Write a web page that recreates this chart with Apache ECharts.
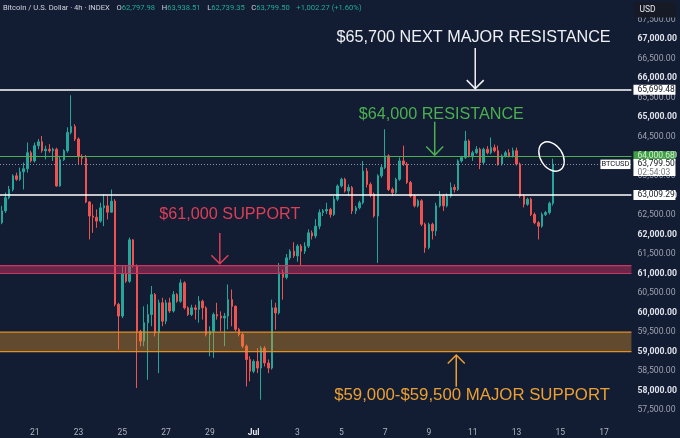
<!DOCTYPE html>
<html>
<head>
<meta charset="utf-8">
<script src="https://cdn.jsdelivr.net/npm/echarts/dist/echarts.min.js"></script>
<style>
html,body{margin:0;padding:0;background:#121c33;}
#chart{width:680px;height:438px;}
</style>
</head>
<body>
<div id="chart"></div>
<script>
// ---------- DATA (4h candles, BTCUSD index) ----------
const opens = [
62300,62600,62940,63150,63500,63410,63600,63680,64090,63880,64270,64370,64140,64180,64140,64180,63240,63910,64140,64610,64760,64440,63990,63950,62830,62470,62440,62340,62680,62730,62570,62850,
60210,59910,61000,60800,61860,61190,59520,59270,59740,59950,60460,59480,60250,59780,60250,60040,60460,60290,60760,60120,59950,60120,60080,60290,60120,59440,59520,59950,59910,59860,59910,60330,60160,59570,59440,59140,58800,58500,58750,58580,59090,58710,58580,60120,
59990,61020,60900,61400,61570,61450,61700,61570,61700,62040,61960,62210,62560,62600,62640,62510,62900,63240,63410,63110,63200,62600,62680,62810,63620,63280,63030,62470,63500,63710,64010,63150,63070,63410,
63880,63800,63330,62980,62730,62860,62260,61660,62260,62090,62730,62980,62730,62980,63200,63150,63880,63970,64390,64010,64090,64180,63840,64180,64090,64220,64140,63800,64010,64090,64010,64140,63800,62980,62770,62900,62510,62300,62210,62510,62560,62797.98
];
const closes = [
62600,62940,63150,63500,63410,63600,63680,64090,63880,64270,64370,64140,64180,64140,64180,63240,63910,64140,64610,64760,64440,63990,63950,62830,62470,62440,62340,62680,62730,62570,62850,60210,
59910,61000,60800,61860,61190,59520,59270,59740,59950,60460,59480,60250,59780,60250,60040,60460,60290,60760,60120,59950,60120,60080,60290,60120,59440,59520,59950,59910,59860,59910,60330,60160,59570,59440,59140,58800,58500,58750,58580,59090,58710,58580,60120,59990,
61020,60900,61400,61570,61450,61700,61570,61700,62040,61960,62210,62560,62600,62640,62510,62900,63240,63410,63110,63200,62600,62680,62810,63620,63280,63030,62470,63500,63710,64010,63150,63070,63410,63880,
63800,63330,62980,62730,62860,62260,61660,62260,62090,62730,62980,62730,62980,63200,63150,63880,63970,64390,64010,64090,64180,63840,64180,64090,64220,64140,63800,64010,64090,64010,64140,63800,62980,62770,62900,62510,62300,62210,62510,62560,62797.23,63799.50
];
const lows = [
62260,62550,62900,63100,63370,63370,63150,63580,63840,63840,64180,64090,63920,64090,63880,63220,63220,63880,64090,64560,64390,63790,63790,62800,61870,62040,62170,62300,62210,62380,62550,60160,
59050,59860,60760,60760,61150,58070,59140,59140,58280,59650,59390,58450,59650,59700,59990,60000,60250,60250,60080,59910,59910,59820,59740,59820,59390,58880,58840,59820,59520,59140,59570,59650,59520,59390,59090,58110,58240,58450,58450,57770,58620,58450,58540,59560,
59950,60330,60850,61350,61400,61300,61190,61500,61650,61870,61900,62130,62470,62520,62430,62470,62850,63200,63070,62980,62520,62520,62640,62770,63200,62950,62430,61270,63450,63670,63110,62980,63030,63370,
63750,63290,62940,62690,62690,62210,61530,61620,61870,61960,62690,62600,62690,62940,63070,63110,63840,63930,63970,63880,64050,63670,63800,64050,64050,64100,63760,63760,63970,63970,63970,63760,62940,62690,62730,62470,62260,61870,62170,62470,62510,62739.35
];
const highs = [
62730,63070,63240,63540,63580,63710,63840,64350,64140,64350,64440,64520,64270,64310,64220,64220,64010,64180,64740,65560,64820,64480,64050,64030,62850,62770,62640,62810,63030,62980,63150,62900,
60250,61190,61190,61920,61880,61230,59560,60160,60210,60680,60500,60330,60380,60330,60380,60550,60500,60850,60800,60160,60200,60200,60420,60330,60160,59650,60000,60250,60030,59990,60720,60590,60180,59610,59480,59180,58880,58800,59090,59140,59140,58800,60330,60250,
61270,61100,61500,61620,61800,61750,61750,61800,62130,62100,62390,62640,62650,62810,62680,62980,63280,63450,63450,63280,63240,62730,62860,63880,63700,63330,63070,63540,63790,64690,64050,63200,63450,63970,
64270,63850,63370,63030,62900,62900,62300,62300,62300,62810,63110,63030,63050,63330,63280,63920,64010,64650,64430,64140,64260,64220,64220,64260,64480,64300,64270,64050,64140,64180,64220,64220,63840,63030,62940,62940,62560,62340,62560,62600,62840,63938.51
];

// x categories: 4h slots starting Jun 19 12:00 (includes empty future slots)
const slotCount = 173;
const firstSlotUTC = Date.UTC(2024, 5, 19, 12);
const categories = [];
for (let i = 0; i < slotCount; i++) {
  const d = new Date(firstSlotUTC + i * 4 * 3600 * 1000);
  categories.push((d.getUTCMonth() + 1) + '/' + d.getUTCDate() + ' ' + String(d.getUTCHours()).padStart(2, '0') + ':00');
}
const tickDates = ['6/21 00:00','6/23 00:00','6/25 00:00','6/27 00:00','6/29 00:00','7/1 00:00','7/3 00:00','7/5 00:00','7/7 00:00','7/9 00:00','7/11 00:00','7/13 00:00','7/15 00:00','7/17 00:00'];
const tickLabels = ['21','23','25','27','29','Jul','3','5','7','9','11','13','15','17'];

// levels
const nextResistance = 65699.48;
const resistance = 64000.68;
const lastPrice = 63799.50;
const supportLine = 63009.29;
const countdown = '02:54:03';
const bandLows = [61000, 59000];
const bandHighs = [61200, 59500];

// ---------- CHART ----------
const chart = echarts.init(document.getElementById('chart'));
const candleData = opens.map((o, i) => [o, closes[i], lows[i], highs[i]]);
const fmt = v => v.toLocaleString('en-US', {minimumFractionDigits: 2, maximumFractionDigits: 2});
const UP = '#26a69a', DOWN = '#ef5350';

chart.setOption({
  backgroundColor: '#121c33',
  animation: false,
  grid: {left: 0, right: 48, top: 0, bottom: 8.2},
  xAxis: {
    type: 'category', data: categories, boundaryGap: true,
    axisLine: {show: false}, axisTick: {show: false}, splitLine: {show: false},
    axisLabel: {
      margin: -1,
      interval: (idx, val) => tickDates.indexOf(val) >= 0,
      formatter: val => {
        const j = tickDates.indexOf(val);
        if (j < 0) return '';
        return tickLabels[j] === 'Jul' ? '{m|Jul}' : '{d|' + tickLabels[j] + '}';
      },
      rich: {
        d: {color: '#b2b5be', fontSize: 8.5, fontFamily: 'Roboto'},
        m: {color: '#e6e8ee', fontSize: 8.5, fontWeight: 'bold', fontFamily: 'Roboto'}
      }
    }
  },
  yAxis: {
    type: 'value', position: 'right', min: 57000, max: 67998, interval: 500, scale: true,
    axisLine: {show: false}, axisTick: {show: false}, splitLine: {show: false},
    axisLabel: {
      margin: 6,
      showMaxLabel: false,
      formatter: v => {
        if (v < 57500 || v > 67500) return '';
        return v % 1000 === 0 ? '{b|' + fmt(v) + '}' : '{n|' + fmt(v) + '}';
      },
      rich: {
        b: {color: '#dfe2ea', fontSize: 8.7, fontWeight: 'bold', fontFamily: 'Roboto'},
        n: {color: '#9ba1ad', fontSize: 8.7, fontFamily: 'Roboto'}
      }
    }
  },
  series: [
    {
      type: 'candlestick',
      data: candleData,
      barWidth: 2,
      z: 2,
      itemStyle: {color: UP, color0: DOWN, borderColor: UP, borderColor0: DOWN, borderWidth: 1},
      markLine: {
        silent: true, symbol: 'none', animation: false,
        label: {show: false},
        data: [
          {yAxis: nextResistance, lineStyle: {color: '#ffffff', width: 1.6, type: 'solid'}},
          {yAxis: resistance, lineStyle: {color: '#4caf50', width: 1.2, type: 'solid'}},
          {yAxis: lastPrice, lineStyle: {color: '#8a93a6', width: 1, type: [1, 2]}},
          {yAxis: supportLine, lineStyle: {color: '#ffffff', width: 1.6, type: 'solid'}}
        ]
      }
    },
    {
      type: 'custom',
      z: 6,
      silent: true,
      data: bandLows.map((lo, i) => [0, lo, bandHighs[i], i]),
      encode: {x: 0, y: [1, 2]},
      renderItem: (params, api) => {
        const top = api.coord([0, api.value(2)])[1];
        const bot = api.coord([0, api.value(1)])[1];
        const cs = params.coordSys;
        const red = api.value(3) === 0;
        const fill = red ? 'rgba(214,50,96,0.47)' : 'rgba(230,150,40,0.38)';
        const edge = red ? '#c23a62' : '#e0902a';
        return {type: 'group', children: [
          {type: 'rect', shape: {x: cs.x, y: top, width: cs.width, height: bot - top}, style: {fill: fill}},
          {type: 'line', shape: {x1: cs.x, y1: top, x2: cs.x + cs.width, y2: top}, style: {stroke: edge, lineWidth: 1.2}},
          {type: 'line', shape: {x1: cs.x, y1: bot, x2: cs.x + cs.width, y2: bot}, style: {stroke: edge, lineWidth: 1.2}}
        ]};
      }
    }
  ]
});

// ---------- ANNOTATIONS (anchored in data space) ----------
function px(i, v) {
  const i0 = Math.floor(i), f = i - i0;
  const a = chart.convertToPixel({xAxisIndex: 0, yAxisIndex: 0}, [i0, v]);
  const b = chart.convertToPixel({xAxisIndex: 0, yAxisIndex: 0}, [i0 + 1, v]);
  return [a[0] + (b[0] - a[0]) * f, a[1]];
}
function py(v) { return chart.convertToPixel({yAxisIndex: 0}, v); }
const gridRight = chart.convertToPixel({xAxisIndex: 0}, slotCount - 1) + (chart.convertToPixel({xAxisIndex: 0}, 1) - chart.convertToPixel({xAxisIndex: 0}, 0)) / 2;

function label(text, i, v, color, size) {
  const p = px(i, v);
  return {type: 'text', z: 50, style: {text: text, x: p[0], y: p[1], fill: color,
    font: size + 'px "Liberation Sans", Arial, sans-serif', textAlign: 'center', textVerticalAlign: 'middle', align: 'center', verticalAlign: 'middle'}};
}
function arrow(i, vFrom, vTo, color) {
  const a = px(i, vFrom), b = px(i, vTo);
  const dir = b[1] > a[1] ? 1 : -1;
  return [
    {type: 'line', z: 50, shape: {x1: a[0], y1: a[1], x2: b[0], y2: b[1]}, style: {stroke: color, lineWidth: 1.5}},
    {type: 'polyline', z: 50, shape: {points: [[b[0] - 8.5, b[1] - dir * 8.5], [b[0], b[1]], [b[0] + 8.5, b[1] - dir * 8.5]]}, style: {stroke: color, lineWidth: 1.5, fill: null}}
  ];
}
function tag(v, text, bg, fg, extra) {
  const y = py(v);
  const x0 = gridRight + 2;
  const h = extra ? 17 : 10;
  const els = [
    {type: 'rect', z: 60, shape: {x: x0, y: y - 5, width: 42, height: h}, style: {fill: bg}},
    {type: 'text', z: 61, style: {text: text, x: x0 + 4, y: y, fill: fg, font: '8.5px Roboto', textVerticalAlign: 'middle', verticalAlign: 'middle'}}
  ];
  if (extra) els.push({type: 'text', z: 61, style: {text: extra, x: x0 + 4, y: y + 8.5, fill: '#787b86', font: '8.5px Roboto', textVerticalAlign: 'middle', verticalAlign: 'middle'}});
  return els;
}

const last = opens.length - 1;
const change = closes[last] - closes[last - 1];
const pct = change / closes[last - 1] * 100;
const sgn = change >= 0 ? '+' : '-';

const ell = px(150.6, 63993);
const gfx = [].concat(
  label('$65,700 NEXT MAJOR RESISTANCE', 129.25, 67043, '#eef0f4', 16.2),
  arrow(129.7, 66770, 65730, '#eef0f4'),
  label('$64,000 RESISTANCE', 120.4, 65055, '#4caf50', 16.2),
  arrow(118.6, 64884, 64030, '#4caf50'),
  label('$61,000 SUPPORT', 62.46, 62496, '#dc3f57', 16.2),
  arrow(59.72, 62036, 61250, '#dc3f57'),
  label('$59,000-$59,500 MAJOR SUPPORT', 128.84, 57890, '#eca032', 16.8),
  arrow(124.5, 58103, 58914, '#eca032'),
  [{type: 'ellipse', z: 50, x: ell[0], y: ell[1], rotation: 0.58, shape: {cx: 0, cy: 0, rx: 11, ry: 16}, style: {stroke: '#ffffff', lineWidth: 1.4, fill: null}}],
  tag(nextResistance, fmt(nextResistance), '#ffffff', '#131722'),
  tag(resistance, fmt(resistance), '#43a047', '#cdeecd'),
  tag(lastPrice, fmt(lastPrice), '#ffffff', '#131722', countdown),
  tag(supportLine, fmt(supportLine), '#ffffff', '#131722'),
  [
    {type: 'rect', z: 60, shape: {x: gridRight - 31, y: py(lastPrice) - 4.5, width: 30, height: 9.5}, style: {fill: '#ffffff'}},
    {type: 'text', z: 61, style: {text: 'BTCUSD', x: gridRight - 16, y: py(lastPrice), fill: '#131722', font: '7.5px Roboto', textAlign: 'center', align: 'center', textVerticalAlign: 'middle', verticalAlign: 'middle'}},
    {type: 'rect', z: 60, shape: {x: gridRight + 3, y: 2, width: 41, height: 15.5}, style: {fill: '#161a25'}},
    {type: 'text', z: 61, style: {text: 'USD', x: gridRight + 8, y: 9.8, fill: '#e6e8ee', font: '8.5px Roboto', textVerticalAlign: 'middle', verticalAlign: 'middle'}},
    {type: 'text', z: 61, style: {
      x: 3, y: 8.5, textVerticalAlign: 'middle', verticalAlign: 'middle',
      text: '{t|Bitcoin / U.S. Dollar · 4h · INDEX}  {k|O}{v|' + fmt(opens[last]) + '}  {k|H}{v|' + fmt(highs[last]) + '}  {k|L}{v|' + fmt(lows[last]) + '}  {k|C}{v|' + fmt(closes[last]) + '}  {v|' + sgn + fmt(Math.abs(change)) + ' (' + sgn + pct.toFixed(2) + '%)}',
      rich: {
        t: {fill: '#d1d4dc', font: '7.6px Roboto'},
        k: {fill: '#d1d4dc', font: '7.6px Roboto'},
        v: {fill: '#22ab94', font: '7.6px Roboto'}
      }
    }}
  ]
);
chart.setOption({graphic: gfx.map(g => Object.assign({silent: true}, g))});
</script>
</body>
</html>
